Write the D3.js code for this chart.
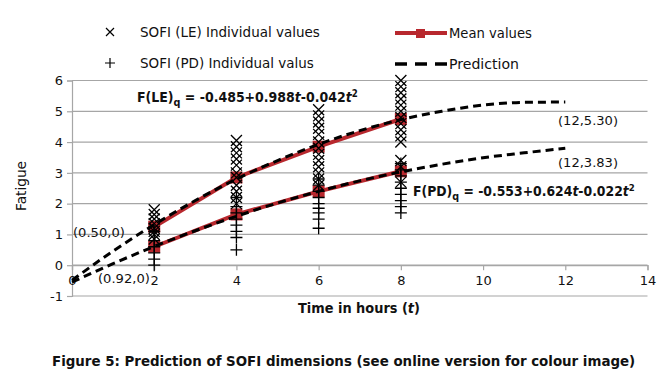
<!DOCTYPE html>
<html><head><meta charset="utf-8">
<script src="https://cdn.jsdelivr.net/npm/d3@7"></script>
<style>body{margin:0;background:#fff}svg{display:block}</style>
</head><body>
<svg id="c" width="658" height="379"></svg>
<script>
const times = [2, 4, 6, 8];
const leIndividual = [
  [1.8, 1.65, 1.5, 1.35, 1.2, 1.1, 1.0, 0.85],
  [4.05, 3.85, 3.65, 3.45, 3.25, 3.0, 2.85, 2.6, 2.4, 2.2, 2.0],
  [5.05, 4.85, 4.65, 4.45, 4.25, 4.0, 3.8, 3.6, 3.4, 3.2, 3.0, 2.8, 2.6],
  [6.0, 5.8, 5.6, 5.4, 5.2, 5.0, 4.8, 4.6, 4.4, 4.2, 4.0, 3.4, 3.2, 2.7]
];
const pdIndividual = [
  [1.1, 0.8, 0.6, 0.4, 0.2, 0.0],
  [2.2, 1.9, 1.7, 1.5, 1.3, 1.1, 0.9, 0.5],
  [2.8, 2.6, 2.4, 2.2, 2.0, 1.85, 1.7, 1.5, 1.2],
  [3.3, 3.1, 2.9, 2.7, 2.5, 2.3, 2.1, 1.9, 1.7]
];
const leMean = [1.25, 2.85, 3.85, 4.75];
const pdMean = [0.6, 1.65, 2.4, 3.05];
const predT = [0, 1, 2, 3, 4, 5, 6, 7, 8, 9, 10, 11, 12];
const lePred = [-0.49, 0.46, 1.32, 2.1, 2.8, 3.4, 3.93, 4.37, 4.73, 5.0, 5.2, 5.29, 5.3];
const pdPred = [-0.55, 0.05, 0.61, 1.12, 1.59, 2.02, 2.4, 2.74, 3.03, 3.28, 3.49, 3.65, 3.8];
const xTicks = [0, 2, 4, 6, 8, 10, 12, 14];
const yTicks = [-1, 0, 1, 2, 3, 4, 5, 6];

const svg = d3.select("#c");
const FONT = "'DejaVu Sans', Verdana, sans-serif";
const BFONT = "'DejaVu Sans Condensed', 'DejaVu Sans', sans-serif";
const x = d3.scaleLinear().domain([0, 14]).range([72, 647.5]);
const y = d3.scaleLinear().domain([-1, 6]).range([296, 80.5]);
const grid = "#a6a6a6";
const red = "#b8282e";

function fit(sel, target) {
  const w = sel.node().getComputedTextLength();
  const fs = +sel.attr("font-size");
  sel.attr("font-size", fs * target / w);
  return sel;
}

// gridlines
svg.append("g").selectAll("line").data(yTicks).join("line")
  .attr("x1", x(0)).attr("x2", x(14)).attr("y1", d => y(d)).attr("y2", d => y(d))
  .attr("stroke", grid).attr("stroke-width", 1.2);

// y axis
const ya = svg.append("g").attr("transform", `translate(${x(0)},0)`)
  .call(d3.axisLeft(y).tickValues(yTicks).tickSize(5).tickFormat(d => String(d)));
ya.select(".domain").attr("stroke", grid).attr("stroke-width", 1.2);
ya.selectAll(".tick line").attr("stroke", grid).attr("stroke-width", 1.2);
ya.selectAll("text").attr("font-family", FONT).attr("font-size", 13).attr("fill", "#111").attr("x", -9);

// x axis at y=0
const xa = svg.append("g").attr("transform", `translate(0,${y(0)})`)
  .call(d3.axisBottom(x).tickValues(xTicks).tickSize(5).tickFormat(d => String(d)));
xa.select(".domain").attr("stroke", grid).attr("stroke-width", 1.2);
xa.selectAll(".tick line").attr("stroke", grid).attr("stroke-width", 1.2);
xa.selectAll("text").attr("font-family", FONT).attr("font-size", 13).attr("fill", "#111").attr("y", 11);

// mean lines
const meanLine = d3.line().x((d, i) => x(times[i])).y(d => y(d));
[leMean, pdMean].forEach(arr => {
  svg.append("path").datum(arr).attr("d", meanLine).attr("fill", "none")
    .attr("stroke", red).attr("stroke-width", 4);
  svg.append("g").selectAll("rect").data(arr).join("rect")
    .attr("x", (d, i) => x(times[i]) - 6).attr("y", d => y(d) - 6)
    .attr("width", 12).attr("height", 12).attr("fill", red);
});

// prediction curves
const predLine = d3.line().x((d, i) => x(predT[i])).y(d => y(d)).curve(d3.curveMonotoneX);
[lePred, pdPred].forEach(arr => {
  svg.append("path").datum(arr).attr("d", predLine).attr("fill", "none")
    .attr("stroke", "#000").attr("stroke-width", 3).attr("stroke-dasharray", "8,5");
});

// individual markers
const ms = 5.5;
leIndividual.forEach((vals, i) => {
  const g = svg.append("g");
  vals.forEach(v => {
    const cx = x(times[i]), cy = y(v);
    g.append("path").attr("d", `M${cx-ms},${cy-ms}L${cx+ms},${cy+ms}M${cx-ms},${cy+ms}L${cx+ms},${cy-ms}`)
      .attr("stroke", "#000").attr("stroke-width", 1.3).attr("fill", "none");
  });
});
pdIndividual.forEach((vals, i) => {
  const g = svg.append("g");
  vals.forEach(v => {
    const cx = x(times[i]), cy = y(v);
    g.append("path").attr("d", `M${cx-6},${cy}L${cx+6},${cy}M${cx},${cy-6}L${cx},${cy+6}`)
      .attr("stroke", "#000").attr("stroke-width", 1.3).attr("fill", "none");
  });
});

// annotations
function txt(xp, yp, s, opts = {}) {
  return svg.append("text").attr("x", xp).attr("y", yp).attr("font-family", opts.bold ? BFONT : FONT)
    .attr("font-size", opts.size || 13).attr("font-weight", opts.bold ? "bold" : "normal")
    .attr("fill", "#111").attr("text-anchor", opts.anchor || "start").text(s);
}
fit(txt(73, 237, "(0.50,0)"), 52);
fit(txt(98, 283, "(0.92,0)"), 52);
fit(txt(558, 125, "(12,5.30)"), 60);
fit(txt(558, 167, "(12,3.83)"), 60);

function formula(xp, yp, head, body, target) {
  const t = svg.append("text").attr("x", xp).attr("y", yp).attr("font-family", BFONT)
    .attr("font-size", 13).attr("font-weight", "bold").attr("fill", "#111");
  t.append("tspan").text(head);
  t.append("tspan").attr("dy", 4).attr("font-size", 10).text("q");
  t.append("tspan").attr("dy", -4).text(" = " + body[0]);
  t.append("tspan").attr("font-style", "italic").text("t");
  t.append("tspan").text(body[1]);
  t.append("tspan").attr("font-style", "italic").text("t");
  t.append("tspan").attr("dy", -5).attr("font-size", 9).text("2");
  const w = t.node().getComputedTextLength();
  const k = target / w;
  t.attr("font-size", 13 * k);
  t.selectAll("tspan").each(function() {
    const s = d3.select(this);
    if (s.attr("font-size")) s.attr("font-size", +s.attr("font-size") * k);
  });
}
formula(137, 102, "F(LE)", ["-0.485+0.988", "-0.042"], 221);
formula(413, 196, "F(PD)", ["-0.553+0.624", "-0.022"], 222);

// axis titles
const xt = svg.append("text").attr("x", 359).attr("y", 313).attr("text-anchor", "middle")
  .attr("font-family", BFONT).attr("font-size", 13).attr("font-weight", "bold").attr("fill", "#111");
xt.append("tspan").text("Time in hours (");
xt.append("tspan").attr("font-style", "italic").text("t");
xt.append("tspan").text(")");
fit(xt, 122);
fit(svg.append("text").attr("transform", "translate(26,186) rotate(-90)").attr("text-anchor", "middle")
  .attr("font-family", FONT).attr("font-size", 13).attr("fill", "#111").text("Fatigue"), 50);

// legend
svg.append("path").attr("d", "M106,28L114,36M106,36L114,28").attr("stroke", "#000").attr("stroke-width", 1.2);
svg.append("path").attr("d", "M105,63L115,63M110,58L110,68").attr("stroke", "#000").attr("stroke-width", 1.2);
fit(txt(140, 37, "SOFI (LE) Individual values"), 180);
fit(txt(140, 68, "SOFI (PD) Individual valus"), 174);
svg.append("line").attr("x1", 395).attr("x2", 447).attr("y1", 33).attr("y2", 33).attr("stroke", red).attr("stroke-width", 4);
svg.append("rect").attr("x", 416).attr("y", 29).attr("width", 9).attr("height", 9).attr("fill", red);
fit(txt(449, 38, "Mean values"), 83);
svg.append("line").attr("x1", 395).attr("x2", 447).attr("y1", 64).attr("y2", 64).attr("stroke", "#000").attr("stroke-width", 3.5).attr("stroke-dasharray", "12,8");
fit(txt(449, 69, "Prediction"), 70);

// caption
fit(svg.append("text").attr("x", 52).attr("y", 366).attr("font-family", BFONT)
  .attr("font-size", 13).attr("font-weight", "bold").attr("fill", "#111")
  .text("Figure 5: Prediction of SOFI dimensions (see online version for colour image)"), 584);
</script>
</body></html>
